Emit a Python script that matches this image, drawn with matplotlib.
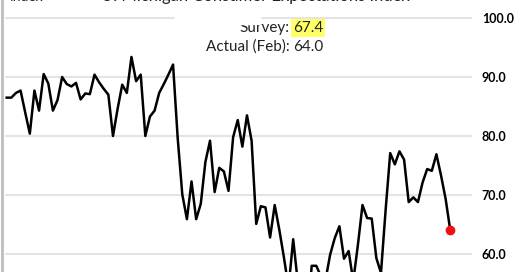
import matplotlib
matplotlib.use("Agg")
import matplotlib.pyplot as plt
import numpy as np
import pandas as pd

# U. Michigan consumer expectations index, monthly Feb 2017 - Feb 2025
months = pd.date_range("2017-02-01", "2025-02-01", freq="MS")
expectations = [
    86.5, 86.5, 87.3, 87.7, 84.0, 80.4, 87.7, 84.3, 90.5, 88.9, 84.3,   # 2017
    86.1, 90.0, 88.8, 88.4, 89.0, 86.2, 87.2, 87.1, 90.4, 89.1, 88.0, 87.0,  # 2018
    80.0, 84.6, 88.7, 87.3, 93.4, 89.3, 90.4, 80.0, 83.3, 84.3, 87.3, 88.8,  # 2019
    90.4, 92.1, 79.7, 70.1, 65.9, 72.3, 65.9, 68.5, 75.6, 79.2, 70.5, 74.6,  # 2020
    74.0, 70.7, 79.8, 82.7, 78.2, 83.5, 79.2, 65.1, 68.1, 67.9, 62.8, 68.3,  # 2021
    64.1, 59.4, 54.3, 62.5, 55.2, 47.5, 47.3, 58.0, 58.0, 56.2, 55.6, 59.9,  # 2022
    62.7, 64.7, 59.2, 60.5, 55.4, 61.5, 68.3, 66.1, 66.0, 59.3, 56.8, 67.4,  # 2023
    77.1, 75.2, 77.4, 76.0, 68.8, 69.6, 68.8, 72.1, 74.4, 74.1, 76.9, 73.3,  # 2024
    69.3, 64.0,  # 2025
]
yticks = [60, 70, 80, 90, 100]
survey = 67.4
actual = 64.0

W, H = 520, 272
fig = plt.figure(figsize=(W / 100, H / 100), dpi=100)
ax = fig.add_axes([5 / W, 0, 467 / W, 1])

x = np.arange(len(months))
ax.plot(x, expectations, color="black", lw=1.8, zorder=3)
ax.plot(x[-1], expectations[-1], "o", color="#ee1111", ms=6, zorder=4)

ax.set_xlim(-0.37, 100.7)
ax.set_ylim(100 - 254 / 5.9, 100 + 18 / 5.9)
ax.set_yticks(yticks)
ax.set_yticklabels([f"{v:.1f}" for v in yticks])
ax.yaxis.tick_right()
ax.tick_params(axis="y", length=0, pad=7, labelsize=9)
for lab in ax.get_yticklabels():
    lab.set_fontfamily("Lato")
    lab.set_fontweight("bold")
ax.set_xticks([])
ax.grid(axis="y", color="#e4e4e4", lw=1.5, zorder=1)
for s in ax.spines.values():
    s.set_visible(False)

# white patch hiding part of the top gridline behind the text box
fig.patches.append(plt.Rectangle((175 / W, 1 - 24 / H), 85 / W, 12 / H,
                                 transform=fig.transFigure, color="white", zorder=5))

# left border line
fig.add_artist(plt.Line2D([2 / W, 2 / W], [0, 1], color="#bdbdbd", lw=2))

# title, mostly cut off at the top
fig.text(255 / W, 1 - 1 / H, "U. Michigan Consumer Expectations Index",
         ha="center", va="baseline", fontsize=12, family="Lato", color="#222222")
fig.text(10 / W, 1 - 1 / H, "Index", ha="left", va="baseline",
         fontsize=10, family="Lato", color="#222222")

# survey / actual annotation
fig.text(290 / W, 1 - 28 / H, "Survey:", ha="right", va="center",
         fontsize=11, family="Lato", color="#222222")
fig.text(293 / W, 1 - 28 / H, f"{survey:.1f}", ha="left", va="center",
         fontsize=11, family="Lato", color="#222222",
         bbox=dict(boxstyle="square,pad=0.12", fc="#ffff66", ec="none"))
fig.text(290 / W, 1 - 47 / H, "Actual (Feb):", ha="right", va="center",
         fontsize=11, family="Lato", color="#222222")
fig.text(293 / W, 1 - 47 / H, f"{actual:.1f}", ha="left", va="center",
         fontsize=11, family="Lato", color="#222222")

fig.savefig("out.png", dpi=100)
